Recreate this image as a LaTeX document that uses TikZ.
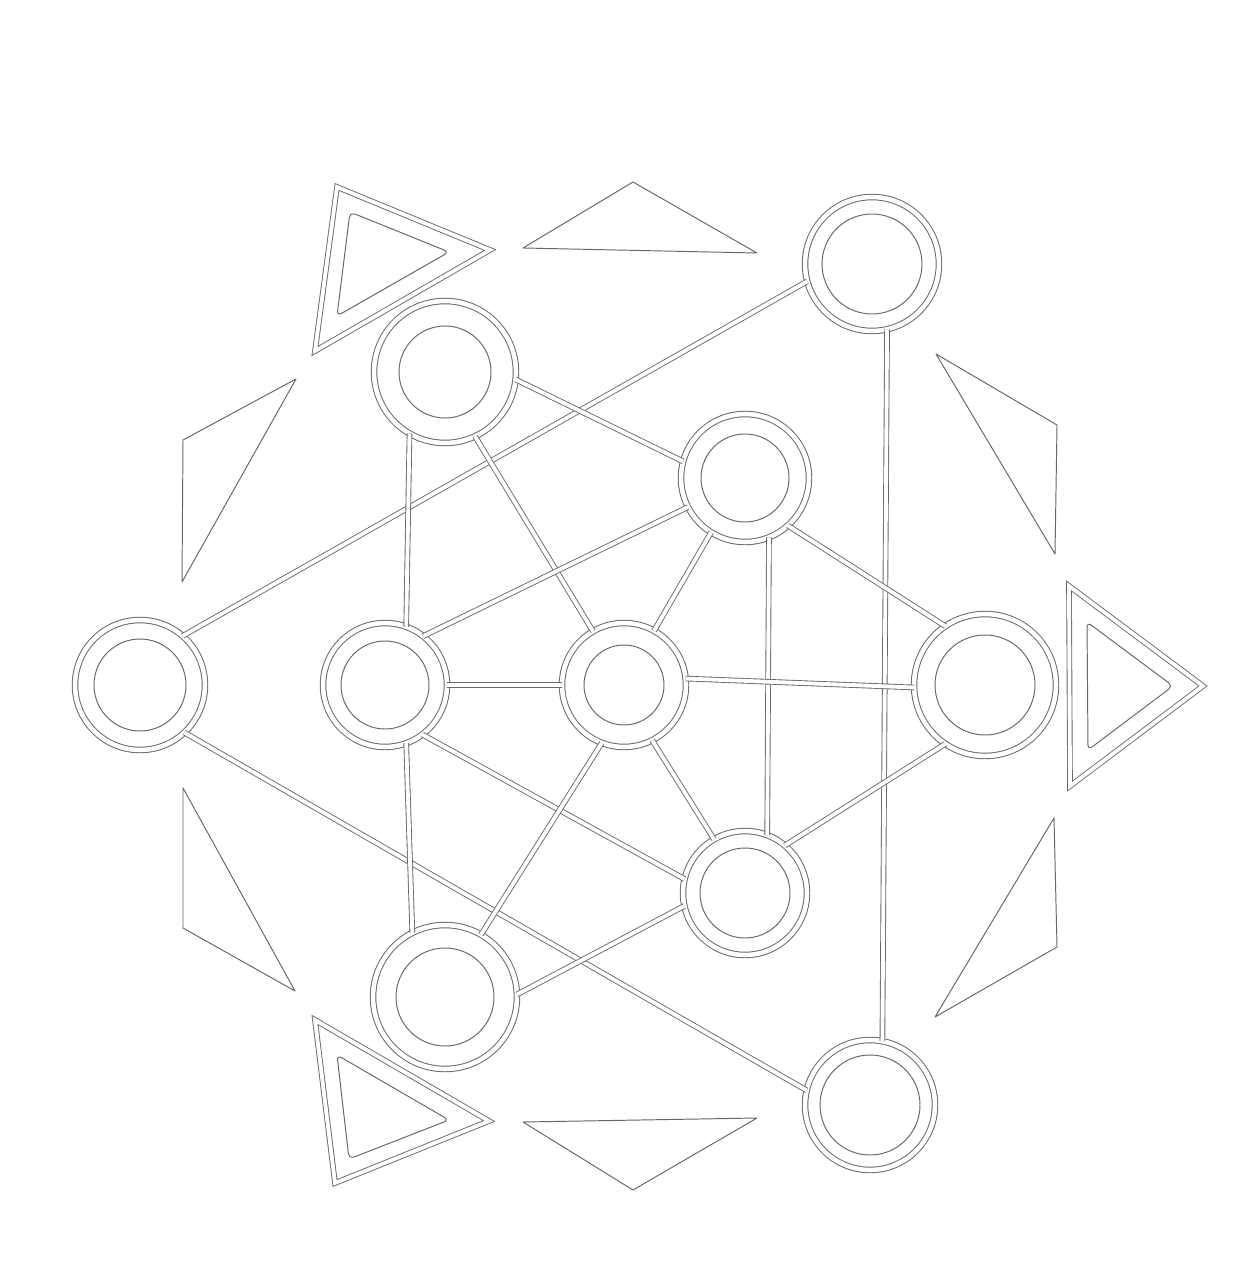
\documentclass[tikz,border=0pt]{standalone}
\begin{document}
\begin{tikzpicture}[x=0.02cm,y=-0.02cm,line join=round,line cap=round]
	\tikzset{
		vong/.style={circle,draw=black!60,double=white,double distance=2.6pt,line width=0.55pt,inner sep=0pt,outer sep=0pt},
		loi/.style={draw=black!60,line width=0.55pt},
		canh/.style={draw=black!60,double=white,double distance=2.2pt,line width=0.5pt,line cap=butt},
		tamgiac/.style={draw=black!60,line width=0.55pt}
	}
	\useasboundingbox (0,0) rectangle (1258,1280);
	% ve cac nut
	\foreach \ten/\x/\y/\R/\r in {tr/872/264/67/50, ul/445/372/71/46, um/745/478/64/44,
		l/140/685/65/46, il/385/685/62/44, c/624/685/62/40, r/985/685/71/50,
		lm/745/893/62/45, ll/445/997/72/49, br/870/1105/65/50}{
		\node[vong,minimum size=\R*0.04cm] (\ten) at (\x,\y) {};
		\draw[loi] (\x,\y) circle (\r);
	}
	% ve cac canh
	\draw[canh] (tr.195)--(l.49) (tr.283)--(br.79) (l.313)--(br.167);
	\draw[canh] (ul.354)--(um.165) (ul.295)--(c.120) (ul.240)--(il.70);
	\draw[canh] (um.207)--(il.52) (um.238)--(c.61) (um.292)--(lm.69) (um.312)--(r.124);
	\draw[canh] (il)--(c) (c.6)--(r.182) (il.307)--(lm.167) (il.290)--(ll.117);
	\draw[canh] (c.249)--(ll.60) (c.297)--(lm.120) (lm.50)--(r.236) (ll.2)--(lm.192);
	% ve tam giac kep
	\draw[canh,line join=miter] (337,187)--(490,250)--(315,351)--cycle;
	\draw[tamgiac,rounded corners=3pt] (350,212)--(449,252)--(337,316)--cycle;
	\draw[canh,line join=miter] (1069,586)--(1203,686)--(1070,786)--cycle;
	\draw[tamgiac,rounded corners=3pt] (1087,622)--(1173,686)--(1088,750)--cycle;
	\draw[canh,line join=miter] (315,1020)--(489,1121)--(335,1183)--cycle;
	\draw[tamgiac,rounded corners=3pt] (337,1055)--(449,1120)--(349,1159)--cycle;
	% ve tam giac don
	\draw[tamgiac] (523,248)--(633,182)--(757,253)--cycle;
	\draw[tamgiac] (296,379)--(183,440)--(182,582)--cycle;
	\draw[tamgiac] (936,354)--(1057,425)--(1055,554)--cycle;
	\draw[tamgiac] (183,788)--(183,928)--(295,991)--cycle;
	\draw[tamgiac] (1054,818)--(1057,947)--(935,1017)--cycle;
	\draw[tamgiac] (523,1122)--(757,1118)--(633,1190)--cycle;
\end{tikzpicture}
\end{document}
